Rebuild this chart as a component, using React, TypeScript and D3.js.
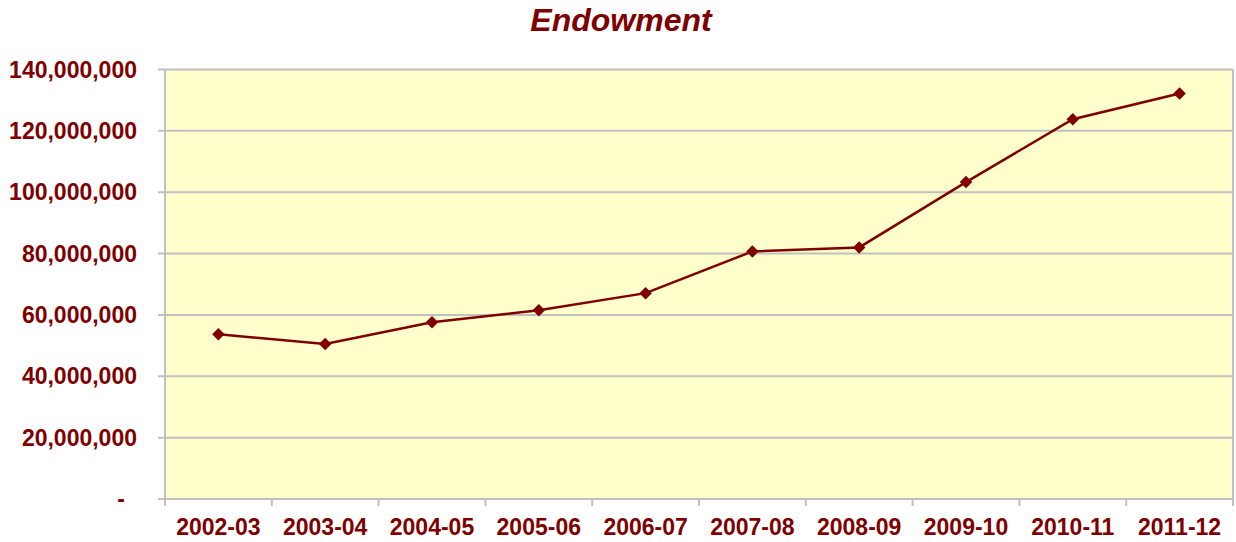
import React from 'react';
import * as d3 from 'd3';

// fiscal years and endowment values
const years = ['2002-03', '2003-04', '2004-05', '2005-06', '2006-07', '2007-08', '2008-09', '2009-10', '2010-11', '2011-12'];
const endowment = [53.7e6, 50.5e6, 57.6e6, 61.5e6, 67.1e6, 80.7e6, 82.0e6, 103.3e6, 123.8e6, 132.2e6];
const yTicks = [0, 20e6, 40e6, 60e6, 80e6, 100e6, 120e6, 140e6];

const W = 1236;
const H = 542;
const margin = { top: 69.5, right: 3, bottom: 43, left: 165 };
const RED = '#800000';
const GRID = '#C0C0C0';
const FONT = '"Liberation Sans", Arial, sans-serif';

export default function App() {
  const innerW = W - margin.left - margin.right;
  const innerH = H - margin.top - margin.bottom;

  const x = d3.scaleBand<string>().domain(years).range([0, innerW]);
  const y = d3.scaleLinear().domain([0, 140e6]).range([innerH, 0]);

  const data = years.map((yr, i) => ({ yr, v: endowment[i] }));
  const line = d3
    .line<{ yr: string; v: number }>()
    .x(d => (x(d.yr) ?? 0) + x.bandwidth() / 2)
    .y(d => y(d.v));

  const diamond = d3.symbol().type(d3.symbolDiamond2).size(100)() as string;
  const fmt = d3.format(',');

  return (
    <div style={{ position: 'fixed', left: 0, top: 0 }}>
      <svg width={W} height={H} style={{ display: 'block', background: '#fff' }}>
        <text
          x={621}
          y={31}
          textAnchor="middle"
          fontFamily={FONT}
          fontSize={32}
          fontWeight="bold"
          fontStyle="italic"
          fill={RED}
        >
          Endowment
        </text>
        <g transform={`translate(${margin.left},${margin.top})`}>
          <rect x={0} y={0} width={innerW} height={innerH} fill="#FFFFCC" />
          {/* gridlines + y ticks */}
          {yTicks.map(t => (
            <g key={t}>
              <line x1={-7} x2={innerW} y1={y(t)} y2={y(t)} stroke={GRID} strokeWidth={2} />
              <text
                x={t === 0 ? -40 : -28}
                y={y(t)}
                dy="0.35em"
                textAnchor="end"
                fontFamily={FONT}
                fontSize={23}
                fontWeight="bold"
                fill={RED}
              >
                {t === 0 ? '-' : fmt(t)}
              </text>
            </g>
          ))}
          {/* axes */}
          <line x1={0} x2={0} y1={0} y2={innerH + 1} stroke={GRID} strokeWidth={2} />
          <line x1={innerW} x2={innerW} y1={0} y2={innerH} stroke={GRID} strokeWidth={2} />
          {years.map(yr => (
            <line
              key={'t' + yr}
              x1={x(yr) ?? 0}
              x2={x(yr) ?? 0}
              y1={innerH}
              y2={innerH + 7}
              stroke={GRID}
              strokeWidth={2}
            />
          ))}
          <line x1={innerW} x2={innerW} y1={innerH} y2={innerH + 7} stroke={GRID} strokeWidth={2} />
          {years.map(yr => (
            <text
              key={'l' + yr}
              x={(x(yr) ?? 0) + x.bandwidth() / 2}
              y={innerH + 36}
              textAnchor="middle"
              fontFamily={FONT}
              fontSize={23}
              fontWeight="bold"
              fill={RED}
            >
              {yr}
            </text>
          ))}
          <path d={line(data) ?? ''} fill="none" stroke={RED} strokeWidth={2.5} />
          {data.map(d => (
            <path
              key={'m' + d.yr}
              d={diamond}
              transform={`translate(${(x(d.yr) ?? 0) + x.bandwidth() / 2},${y(d.v)})`}
              fill={RED}
            />
          ))}
        </g>
      </svg>
    </div>
  );
}
